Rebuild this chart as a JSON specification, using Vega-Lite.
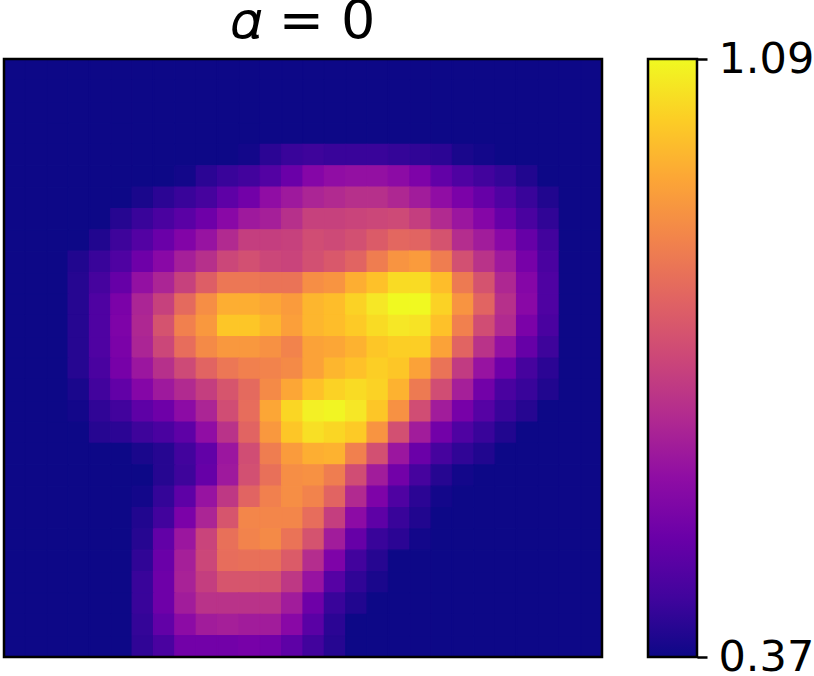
{"$schema":"https://vega.github.io/schema/vega-lite/v6.json","padding":{"left":2,"top":-6,"right":0,"bottom":0},"background":"white","config":{"font":"DejaVu Sans","view":{"stroke":null}},"spacing":42,"hconcat":[{"title":{"text":"𝛼 = 0","font":"DejaVu Sans","fontSize":54,"fontWeight":"normal","color":"black","offset":9,"anchor":"middle"},"width":598,"height":598,"layer":[{"data":{"values":[
{"x":0,"y":0,"v":0.37},{"x":1,"y":0,"v":0.37},{"x":2,"y":0,"v":0.37},{"x":3,"y":0,"v":0.37},{"x":4,"y":0,"v":0.37},{"x":5,"y":0,"v":0.37},{"x":6,"y":0,"v":0.37},{"x":7,"y":0,"v":0.37},{"x":8,"y":0,"v":0.37},{"x":9,"y":0,"v":0.37},{"x":10,"y":0,"v":0.37},{"x":11,"y":0,"v":0.37},{"x":12,"y":0,"v":0.37},{"x":13,"y":0,"v":0.37},{"x":14,"y":0,"v":0.37},{"x":15,"y":0,"v":0.37},{"x":16,"y":0,"v":0.37},{"x":17,"y":0,"v":0.37},{"x":18,"y":0,"v":0.37},{"x":19,"y":0,"v":0.37},{"x":20,"y":0,"v":0.37},{"x":21,"y":0,"v":0.37},{"x":22,"y":0,"v":0.37},{"x":23,"y":0,"v":0.37},{"x":24,"y":0,"v":0.37},{"x":25,"y":0,"v":0.37},{"x":26,"y":0,"v":0.37},{"x":27,"y":0,"v":0.37},
{"x":0,"y":1,"v":0.37},{"x":1,"y":1,"v":0.37},{"x":2,"y":1,"v":0.37},{"x":3,"y":1,"v":0.37},{"x":4,"y":1,"v":0.37},{"x":5,"y":1,"v":0.37},{"x":6,"y":1,"v":0.37},{"x":7,"y":1,"v":0.37},{"x":8,"y":1,"v":0.37},{"x":9,"y":1,"v":0.37},{"x":10,"y":1,"v":0.37},{"x":11,"y":1,"v":0.37},{"x":12,"y":1,"v":0.37},{"x":13,"y":1,"v":0.37},{"x":14,"y":1,"v":0.37},{"x":15,"y":1,"v":0.37},{"x":16,"y":1,"v":0.37},{"x":17,"y":1,"v":0.37},{"x":18,"y":1,"v":0.37},{"x":19,"y":1,"v":0.37},{"x":20,"y":1,"v":0.37},{"x":21,"y":1,"v":0.37},{"x":22,"y":1,"v":0.37},{"x":23,"y":1,"v":0.37},{"x":24,"y":1,"v":0.37},{"x":25,"y":1,"v":0.37},{"x":26,"y":1,"v":0.37},{"x":27,"y":1,"v":0.37},
{"x":0,"y":2,"v":0.37},{"x":1,"y":2,"v":0.37},{"x":2,"y":2,"v":0.37},{"x":3,"y":2,"v":0.37},{"x":4,"y":2,"v":0.37},{"x":5,"y":2,"v":0.37},{"x":6,"y":2,"v":0.37},{"x":7,"y":2,"v":0.37},{"x":8,"y":2,"v":0.37},{"x":9,"y":2,"v":0.37},{"x":10,"y":2,"v":0.37},{"x":11,"y":2,"v":0.37},{"x":12,"y":2,"v":0.37},{"x":13,"y":2,"v":0.37},{"x":14,"y":2,"v":0.37},{"x":15,"y":2,"v":0.37},{"x":16,"y":2,"v":0.37},{"x":17,"y":2,"v":0.37},{"x":18,"y":2,"v":0.37},{"x":19,"y":2,"v":0.37},{"x":20,"y":2,"v":0.37},{"x":21,"y":2,"v":0.37},{"x":22,"y":2,"v":0.37},{"x":23,"y":2,"v":0.37},{"x":24,"y":2,"v":0.37},{"x":25,"y":2,"v":0.37},{"x":26,"y":2,"v":0.37},{"x":27,"y":2,"v":0.37},
{"x":0,"y":3,"v":0.37},{"x":1,"y":3,"v":0.37},{"x":2,"y":3,"v":0.37},{"x":3,"y":3,"v":0.37},{"x":4,"y":3,"v":0.37},{"x":5,"y":3,"v":0.37},{"x":6,"y":3,"v":0.37},{"x":7,"y":3,"v":0.37},{"x":8,"y":3,"v":0.37},{"x":9,"y":3,"v":0.37},{"x":10,"y":3,"v":0.37},{"x":11,"y":3,"v":0.37},{"x":12,"y":3,"v":0.37},{"x":13,"y":3,"v":0.37},{"x":14,"y":3,"v":0.37},{"x":15,"y":3,"v":0.37},{"x":16,"y":3,"v":0.37},{"x":17,"y":3,"v":0.37},{"x":18,"y":3,"v":0.37},{"x":19,"y":3,"v":0.37},{"x":20,"y":3,"v":0.37},{"x":21,"y":3,"v":0.37},{"x":22,"y":3,"v":0.37},{"x":23,"y":3,"v":0.37},{"x":24,"y":3,"v":0.37},{"x":25,"y":3,"v":0.37},{"x":26,"y":3,"v":0.37},{"x":27,"y":3,"v":0.37},
{"x":0,"y":4,"v":0.37},{"x":1,"y":4,"v":0.37},{"x":2,"y":4,"v":0.37},{"x":3,"y":4,"v":0.37},{"x":4,"y":4,"v":0.37},{"x":5,"y":4,"v":0.37},{"x":6,"y":4,"v":0.37},{"x":7,"y":4,"v":0.37},{"x":8,"y":4,"v":0.37},{"x":9,"y":4,"v":0.37},{"x":10,"y":4,"v":0.37},{"x":11,"y":4,"v":0.377},{"x":12,"y":4,"v":0.406},{"x":13,"y":4,"v":0.428},{"x":14,"y":4,"v":0.435},{"x":15,"y":4,"v":0.428},{"x":16,"y":4,"v":0.428},{"x":17,"y":4,"v":0.428},{"x":18,"y":4,"v":0.42},{"x":19,"y":4,"v":0.413},{"x":20,"y":4,"v":0.406},{"x":21,"y":4,"v":0.384},{"x":22,"y":4,"v":0.377},{"x":23,"y":4,"v":0.37},{"x":24,"y":4,"v":0.37},{"x":25,"y":4,"v":0.37},{"x":26,"y":4,"v":0.37},{"x":27,"y":4,"v":0.37},
{"x":0,"y":5,"v":0.37},{"x":1,"y":5,"v":0.37},{"x":2,"y":5,"v":0.37},{"x":3,"y":5,"v":0.37},{"x":4,"y":5,"v":0.37},{"x":5,"y":5,"v":0.37},{"x":6,"y":5,"v":0.37},{"x":7,"y":5,"v":0.37},{"x":8,"y":5,"v":0.377},{"x":9,"y":5,"v":0.406},{"x":10,"y":5,"v":0.428},{"x":11,"y":5,"v":0.442},{"x":12,"y":5,"v":0.471},{"x":13,"y":5,"v":0.514},{"x":14,"y":5,"v":0.564},{"x":15,"y":5,"v":0.586},{"x":16,"y":5,"v":0.593},{"x":17,"y":5,"v":0.593},{"x":18,"y":5,"v":0.579},{"x":19,"y":5,"v":0.55},{"x":20,"y":5,"v":0.5},{"x":21,"y":5,"v":0.464},{"x":22,"y":5,"v":0.442},{"x":23,"y":5,"v":0.42},{"x":24,"y":5,"v":0.392},{"x":25,"y":5,"v":0.37},{"x":26,"y":5,"v":0.37},{"x":27,"y":5,"v":0.37},
{"x":0,"y":6,"v":0.37},{"x":1,"y":6,"v":0.37},{"x":2,"y":6,"v":0.37},{"x":3,"y":6,"v":0.37},{"x":4,"y":6,"v":0.37},{"x":5,"y":6,"v":0.37},{"x":6,"y":6,"v":0.384},{"x":7,"y":6,"v":0.406},{"x":8,"y":6,"v":0.428},{"x":9,"y":6,"v":0.449},{"x":10,"y":6,"v":0.492},{"x":11,"y":6,"v":0.528},{"x":12,"y":6,"v":0.586},{"x":13,"y":6,"v":0.615},{"x":14,"y":6,"v":0.644},{"x":15,"y":6,"v":0.658},{"x":16,"y":6,"v":0.672},{"x":17,"y":6,"v":0.672},{"x":18,"y":6,"v":0.651},{"x":19,"y":6,"v":0.622},{"x":20,"y":6,"v":0.586},{"x":21,"y":6,"v":0.543},{"x":22,"y":6,"v":0.507},{"x":23,"y":6,"v":0.464},{"x":24,"y":6,"v":0.428},{"x":25,"y":6,"v":0.392},{"x":26,"y":6,"v":0.37},{"x":27,"y":6,"v":0.37},
{"x":0,"y":7,"v":0.37},{"x":1,"y":7,"v":0.37},{"x":2,"y":7,"v":0.37},{"x":3,"y":7,"v":0.37},{"x":4,"y":7,"v":0.37},{"x":5,"y":7,"v":0.399},{"x":6,"y":7,"v":0.428},{"x":7,"y":7,"v":0.456},{"x":8,"y":7,"v":0.485},{"x":9,"y":7,"v":0.521},{"x":10,"y":7,"v":0.572},{"x":11,"y":7,"v":0.615},{"x":12,"y":7,"v":0.629},{"x":13,"y":7,"v":0.672},{"x":14,"y":7,"v":0.716},{"x":15,"y":7,"v":0.716},{"x":16,"y":7,"v":0.723},{"x":17,"y":7,"v":0.73},{"x":18,"y":7,"v":0.737},{"x":19,"y":7,"v":0.708},{"x":20,"y":7,"v":0.658},{"x":21,"y":7,"v":0.608},{"x":22,"y":7,"v":0.564},{"x":23,"y":7,"v":0.507},{"x":24,"y":7,"v":0.456},{"x":25,"y":7,"v":0.413},{"x":26,"y":7,"v":0.37},{"x":27,"y":7,"v":0.37},
{"x":0,"y":8,"v":0.37},{"x":1,"y":8,"v":0.37},{"x":2,"y":8,"v":0.37},{"x":3,"y":8,"v":0.37},{"x":4,"y":8,"v":0.392},{"x":5,"y":8,"v":0.435},{"x":6,"y":8,"v":0.471},{"x":7,"y":8,"v":0.514},{"x":8,"y":8,"v":0.557},{"x":9,"y":8,"v":0.6},{"x":10,"y":8,"v":0.658},{"x":11,"y":8,"v":0.708},{"x":12,"y":8,"v":0.708},{"x":13,"y":8,"v":0.716},{"x":14,"y":8,"v":0.744},{"x":15,"y":8,"v":0.737},{"x":16,"y":8,"v":0.752},{"x":17,"y":8,"v":0.78},{"x":18,"y":8,"v":0.809},{"x":19,"y":8,"v":0.802},{"x":20,"y":8,"v":0.759},{"x":21,"y":8,"v":0.665},{"x":22,"y":8,"v":0.622},{"x":23,"y":8,"v":0.572},{"x":24,"y":8,"v":0.507},{"x":25,"y":8,"v":0.442},{"x":26,"y":8,"v":0.37},{"x":27,"y":8,"v":0.37},
{"x":0,"y":9,"v":0.37},{"x":1,"y":9,"v":0.37},{"x":2,"y":9,"v":0.37},{"x":3,"y":9,"v":0.392},{"x":4,"y":9,"v":0.428},{"x":5,"y":9,"v":0.464},{"x":6,"y":9,"v":0.521},{"x":7,"y":9,"v":0.572},{"x":8,"y":9,"v":0.629},{"x":9,"y":9,"v":0.672},{"x":10,"y":9,"v":0.73},{"x":11,"y":9,"v":0.752},{"x":12,"y":9,"v":0.73},{"x":13,"y":9,"v":0.723},{"x":14,"y":9,"v":0.752},{"x":15,"y":9,"v":0.773},{"x":16,"y":9,"v":0.802},{"x":17,"y":9,"v":0.86},{"x":18,"y":9,"v":0.91},{"x":19,"y":9,"v":0.924},{"x":20,"y":9,"v":0.86},{"x":21,"y":9,"v":0.752},{"x":22,"y":9,"v":0.68},{"x":23,"y":9,"v":0.615},{"x":24,"y":9,"v":0.536},{"x":25,"y":9,"v":0.456},{"x":26,"y":9,"v":0.37},{"x":27,"y":9,"v":0.37},
{"x":0,"y":10,"v":0.37},{"x":1,"y":10,"v":0.37},{"x":2,"y":10,"v":0.37},{"x":3,"y":10,"v":0.399},{"x":4,"y":10,"v":0.449},{"x":5,"y":10,"v":0.507},{"x":6,"y":10,"v":0.593},{"x":7,"y":10,"v":0.644},{"x":8,"y":10,"v":0.716},{"x":9,"y":10,"v":0.788},{"x":10,"y":10,"v":0.845},{"x":11,"y":10,"v":0.845},{"x":12,"y":10,"v":0.838},{"x":13,"y":10,"v":0.838},{"x":14,"y":10,"v":0.896},{"x":15,"y":10,"v":0.91},{"x":16,"y":10,"v":0.96},{"x":17,"y":10,"v":0.996},{"x":18,"y":10,"v":1.04},{"x":19,"y":10,"v":1.04},{"x":20,"y":10,"v":0.989},{"x":21,"y":10,"v":0.852},{"x":22,"y":10,"v":0.759},{"x":23,"y":10,"v":0.651},{"x":24,"y":10,"v":0.564},{"x":25,"y":10,"v":0.464},{"x":26,"y":10,"v":0.37},{"x":27,"y":10,"v":0.37},
{"x":0,"y":11,"v":0.37},{"x":1,"y":11,"v":0.37},{"x":2,"y":11,"v":0.37},{"x":3,"y":11,"v":0.399},{"x":4,"y":11,"v":0.464},{"x":5,"y":11,"v":0.543},{"x":6,"y":11,"v":0.644},{"x":7,"y":11,"v":0.716},{"x":8,"y":11,"v":0.816},{"x":9,"y":11,"v":0.896},{"x":10,"y":11,"v":0.96},{"x":11,"y":11,"v":0.96},{"x":12,"y":11,"v":0.946},{"x":13,"y":11,"v":0.924},{"x":14,"y":11,"v":0.975},{"x":15,"y":11,"v":0.989},{"x":16,"y":11,"v":1.025},{"x":17,"y":11,"v":1.061},{"x":18,"y":11,"v":1.09},{"x":19,"y":11,"v":1.09},{"x":20,"y":11,"v":1.025},{"x":21,"y":11,"v":0.91},{"x":22,"y":11,"v":0.802},{"x":23,"y":11,"v":0.672},{"x":24,"y":11,"v":0.572},{"x":25,"y":11,"v":0.464},{"x":26,"y":11,"v":0.37},{"x":27,"y":11,"v":0.37},
{"x":0,"y":12,"v":0.37},{"x":1,"y":12,"v":0.37},{"x":2,"y":12,"v":0.37},{"x":3,"y":12,"v":0.399},{"x":4,"y":12,"v":0.464},{"x":5,"y":12,"v":0.55},{"x":6,"y":12,"v":0.651},{"x":7,"y":12,"v":0.759},{"x":8,"y":12,"v":0.867},{"x":9,"y":12,"v":0.917},{"x":10,"y":12,"v":1.004},{"x":11,"y":12,"v":1.004},{"x":12,"y":12,"v":0.975},{"x":13,"y":12,"v":0.932},{"x":14,"y":12,"v":0.975},{"x":15,"y":12,"v":0.989},{"x":16,"y":12,"v":1.011},{"x":17,"y":12,"v":1.04},{"x":18,"y":12,"v":1.061},{"x":19,"y":12,"v":1.054},{"x":20,"y":12,"v":0.996},{"x":21,"y":12,"v":0.867},{"x":22,"y":12,"v":0.744},{"x":23,"y":12,"v":0.658},{"x":24,"y":12,"v":0.543},{"x":25,"y":12,"v":0.456},{"x":26,"y":12,"v":0.37},{"x":27,"y":12,"v":0.37},
{"x":0,"y":13,"v":0.37},{"x":1,"y":13,"v":0.37},{"x":2,"y":13,"v":0.37},{"x":3,"y":13,"v":0.399},{"x":4,"y":13,"v":0.464},{"x":5,"y":13,"v":0.543},{"x":6,"y":13,"v":0.644},{"x":7,"y":13,"v":0.73},{"x":8,"y":13,"v":0.824},{"x":9,"y":13,"v":0.888},{"x":10,"y":13,"v":0.917},{"x":11,"y":13,"v":0.917},{"x":12,"y":13,"v":0.903},{"x":13,"y":13,"v":0.874},{"x":14,"y":13,"v":0.939},{"x":15,"y":13,"v":0.946},{"x":16,"y":13,"v":0.968},{"x":17,"y":13,"v":1.004},{"x":18,"y":13,"v":1.018},{"x":19,"y":13,"v":1.018},{"x":20,"y":13,"v":0.939},{"x":21,"y":13,"v":0.802},{"x":22,"y":13,"v":0.68},{"x":23,"y":13,"v":0.593},{"x":24,"y":13,"v":0.507},{"x":25,"y":13,"v":0.435},{"x":26,"y":13,"v":0.37},{"x":27,"y":13,"v":0.37},
{"x":0,"y":14,"v":0.37},{"x":1,"y":14,"v":0.37},{"x":2,"y":14,"v":0.37},{"x":3,"y":14,"v":0.399},{"x":4,"y":14,"v":0.456},{"x":5,"y":14,"v":0.536},{"x":6,"y":14,"v":0.608},{"x":7,"y":14,"v":0.672},{"x":8,"y":14,"v":0.737},{"x":9,"y":14,"v":0.802},{"x":10,"y":14,"v":0.845},{"x":11,"y":14,"v":0.867},{"x":12,"y":14,"v":0.874},{"x":13,"y":14,"v":0.888},{"x":14,"y":14,"v":0.939},{"x":15,"y":14,"v":0.975},{"x":16,"y":14,"v":0.996},{"x":17,"y":14,"v":1.018},{"x":18,"y":14,"v":1.004},{"x":19,"y":14,"v":0.939},{"x":20,"y":14,"v":0.838},{"x":21,"y":14,"v":0.701},{"x":22,"y":14,"v":0.6},{"x":23,"y":14,"v":0.521},{"x":24,"y":14,"v":0.449},{"x":25,"y":14,"v":0.406},{"x":26,"y":14,"v":0.37},{"x":27,"y":14,"v":0.37},
{"x":0,"y":15,"v":0.37},{"x":1,"y":15,"v":0.37},{"x":2,"y":15,"v":0.37},{"x":3,"y":15,"v":0.384},{"x":4,"y":15,"v":0.442},{"x":5,"y":15,"v":0.5},{"x":6,"y":15,"v":0.564},{"x":7,"y":15,"v":0.615},{"x":8,"y":15,"v":0.658},{"x":9,"y":15,"v":0.708},{"x":10,"y":15,"v":0.766},{"x":11,"y":15,"v":0.816},{"x":12,"y":15,"v":0.888},{"x":13,"y":15,"v":0.946},{"x":14,"y":15,"v":0.996},{"x":15,"y":15,"v":1.025},{"x":16,"y":15,"v":1.04},{"x":17,"y":15,"v":1.025},{"x":18,"y":15,"v":0.968},{"x":19,"y":15,"v":0.852},{"x":20,"y":15,"v":0.744},{"x":21,"y":15,"v":0.629},{"x":22,"y":15,"v":0.528},{"x":23,"y":15,"v":0.456},{"x":24,"y":15,"v":0.428},{"x":25,"y":15,"v":0.392},{"x":26,"y":15,"v":0.37},{"x":27,"y":15,"v":0.37},
{"x":0,"y":16,"v":0.37},{"x":1,"y":16,"v":0.37},{"x":2,"y":16,"v":0.37},{"x":3,"y":16,"v":0.377},{"x":4,"y":16,"v":0.413},{"x":5,"y":16,"v":0.442},{"x":6,"y":16,"v":0.492},{"x":7,"y":16,"v":0.521},{"x":8,"y":16,"v":0.579},{"x":9,"y":16,"v":0.644},{"x":10,"y":16,"v":0.744},{"x":11,"y":16,"v":0.824},{"x":12,"y":16,"v":0.946},{"x":13,"y":16,"v":1.032},{"x":14,"y":16,"v":1.076},{"x":15,"y":16,"v":1.083},{"x":16,"y":16,"v":1.061},{"x":17,"y":16,"v":1.004},{"x":18,"y":16,"v":0.903},{"x":19,"y":16,"v":0.744},{"x":20,"y":16,"v":0.622},{"x":21,"y":16,"v":0.536},{"x":22,"y":16,"v":0.478},{"x":23,"y":16,"v":0.428},{"x":24,"y":16,"v":0.399},{"x":25,"y":16,"v":0.37},{"x":26,"y":16,"v":0.37},{"x":27,"y":16,"v":0.37},
{"x":0,"y":17,"v":0.37},{"x":1,"y":17,"v":0.37},{"x":2,"y":17,"v":0.37},{"x":3,"y":17,"v":0.37},{"x":4,"y":17,"v":0.399},{"x":5,"y":17,"v":0.406},{"x":6,"y":17,"v":0.435},{"x":7,"y":17,"v":0.456},{"x":8,"y":17,"v":0.492},{"x":9,"y":17,"v":0.586},{"x":10,"y":17,"v":0.68},{"x":11,"y":17,"v":0.802},{"x":12,"y":17,"v":0.917},{"x":13,"y":17,"v":1.004},{"x":14,"y":17,"v":1.047},{"x":15,"y":17,"v":1.032},{"x":16,"y":17,"v":1.011},{"x":17,"y":17,"v":0.91},{"x":18,"y":17,"v":0.752},{"x":19,"y":17,"v":0.622},{"x":20,"y":17,"v":0.528},{"x":21,"y":17,"v":0.464},{"x":22,"y":17,"v":0.428},{"x":23,"y":17,"v":0.392},{"x":24,"y":17,"v":0.37},{"x":25,"y":17,"v":0.37},{"x":26,"y":17,"v":0.37},{"x":27,"y":17,"v":0.37},
{"x":0,"y":18,"v":0.37},{"x":1,"y":18,"v":0.37},{"x":2,"y":18,"v":0.37},{"x":3,"y":18,"v":0.37},{"x":4,"y":18,"v":0.37},{"x":5,"y":18,"v":0.37},{"x":6,"y":18,"v":0.384},{"x":7,"y":18,"v":0.399},{"x":8,"y":18,"v":0.442},{"x":9,"y":18,"v":0.5},{"x":10,"y":18,"v":0.608},{"x":11,"y":18,"v":0.744},{"x":12,"y":18,"v":0.86},{"x":13,"y":18,"v":0.924},{"x":14,"y":18,"v":0.96},{"x":15,"y":18,"v":0.968},{"x":16,"y":18,"v":0.867},{"x":17,"y":18,"v":0.752},{"x":18,"y":18,"v":0.608},{"x":19,"y":18,"v":0.514},{"x":20,"y":18,"v":0.449},{"x":21,"y":18,"v":0.413},{"x":22,"y":18,"v":0.392},{"x":23,"y":18,"v":0.37},{"x":24,"y":18,"v":0.37},{"x":25,"y":18,"v":0.37},{"x":26,"y":18,"v":0.37},{"x":27,"y":18,"v":0.37},
{"x":0,"y":19,"v":0.37},{"x":1,"y":19,"v":0.37},{"x":2,"y":19,"v":0.37},{"x":3,"y":19,"v":0.37},{"x":4,"y":19,"v":0.37},{"x":5,"y":19,"v":0.37},{"x":6,"y":19,"v":0.37},{"x":7,"y":19,"v":0.399},{"x":8,"y":19,"v":0.435},{"x":9,"y":19,"v":0.507},{"x":10,"y":19,"v":0.615},{"x":11,"y":19,"v":0.752},{"x":12,"y":19,"v":0.831},{"x":13,"y":19,"v":0.896},{"x":14,"y":19,"v":0.903},{"x":15,"y":19,"v":0.86},{"x":16,"y":19,"v":0.744},{"x":17,"y":19,"v":0.622},{"x":18,"y":19,"v":0.528},{"x":19,"y":19,"v":0.449},{"x":20,"y":19,"v":0.399},{"x":21,"y":19,"v":0.377},{"x":22,"y":19,"v":0.37},{"x":23,"y":19,"v":0.37},{"x":24,"y":19,"v":0.37},{"x":25,"y":19,"v":0.37},{"x":26,"y":19,"v":0.37},{"x":27,"y":19,"v":0.37},
{"x":0,"y":20,"v":0.37},{"x":1,"y":20,"v":0.37},{"x":2,"y":20,"v":0.37},{"x":3,"y":20,"v":0.37},{"x":4,"y":20,"v":0.37},{"x":5,"y":20,"v":0.37},{"x":6,"y":20,"v":0.377},{"x":7,"y":20,"v":0.42},{"x":8,"y":20,"v":0.492},{"x":9,"y":20,"v":0.6},{"x":10,"y":20,"v":0.694},{"x":11,"y":20,"v":0.802},{"x":12,"y":20,"v":0.867},{"x":13,"y":20,"v":0.896},{"x":14,"y":20,"v":0.874},{"x":15,"y":20,"v":0.802},{"x":16,"y":20,"v":0.658},{"x":17,"y":20,"v":0.55},{"x":18,"y":20,"v":0.464},{"x":19,"y":20,"v":0.406},{"x":20,"y":20,"v":0.377},{"x":21,"y":20,"v":0.37},{"x":22,"y":20,"v":0.37},{"x":23,"y":20,"v":0.37},{"x":24,"y":20,"v":0.37},{"x":25,"y":20,"v":0.37},{"x":26,"y":20,"v":0.37},{"x":27,"y":20,"v":0.37},
{"x":0,"y":21,"v":0.37},{"x":1,"y":21,"v":0.37},{"x":2,"y":21,"v":0.37},{"x":3,"y":21,"v":0.37},{"x":4,"y":21,"v":0.37},{"x":5,"y":21,"v":0.37},{"x":6,"y":21,"v":0.392},{"x":7,"y":21,"v":0.442},{"x":8,"y":21,"v":0.543},{"x":9,"y":21,"v":0.644},{"x":10,"y":21,"v":0.766},{"x":11,"y":21,"v":0.881},{"x":12,"y":21,"v":0.881},{"x":13,"y":21,"v":0.881},{"x":14,"y":21,"v":0.824},{"x":15,"y":21,"v":0.708},{"x":16,"y":21,"v":0.579},{"x":17,"y":21,"v":0.492},{"x":18,"y":21,"v":0.428},{"x":19,"y":21,"v":0.392},{"x":20,"y":21,"v":0.37},{"x":21,"y":21,"v":0.37},{"x":22,"y":21,"v":0.37},{"x":23,"y":21,"v":0.37},{"x":24,"y":21,"v":0.37},{"x":25,"y":21,"v":0.37},{"x":26,"y":21,"v":0.37},{"x":27,"y":21,"v":0.37},
{"x":0,"y":22,"v":0.37},{"x":1,"y":22,"v":0.37},{"x":2,"y":22,"v":0.37},{"x":3,"y":22,"v":0.37},{"x":4,"y":22,"v":0.37},{"x":5,"y":22,"v":0.37},{"x":6,"y":22,"v":0.399},{"x":7,"y":22,"v":0.5},{"x":8,"y":22,"v":0.608},{"x":9,"y":22,"v":0.723},{"x":10,"y":22,"v":0.831},{"x":11,"y":22,"v":0.874},{"x":12,"y":22,"v":0.888},{"x":13,"y":22,"v":0.838},{"x":14,"y":22,"v":0.759},{"x":15,"y":22,"v":0.622},{"x":16,"y":22,"v":0.507},{"x":17,"y":22,"v":0.428},{"x":18,"y":22,"v":0.406},{"x":19,"y":22,"v":0.377},{"x":20,"y":22,"v":0.37},{"x":21,"y":22,"v":0.37},{"x":22,"y":22,"v":0.37},{"x":23,"y":22,"v":0.37},{"x":24,"y":22,"v":0.37},{"x":25,"y":22,"v":0.37},{"x":26,"y":22,"v":0.37},{"x":27,"y":22,"v":0.37},
{"x":0,"y":23,"v":0.37},{"x":1,"y":23,"v":0.37},{"x":2,"y":23,"v":0.37},{"x":3,"y":23,"v":0.37},{"x":4,"y":23,"v":0.37},{"x":5,"y":23,"v":0.37},{"x":6,"y":23,"v":0.413},{"x":7,"y":23,"v":0.514},{"x":8,"y":23,"v":0.629},{"x":9,"y":23,"v":0.73},{"x":10,"y":23,"v":0.824},{"x":11,"y":23,"v":0.831},{"x":12,"y":23,"v":0.831},{"x":13,"y":23,"v":0.78},{"x":14,"y":23,"v":0.665},{"x":15,"y":23,"v":0.55},{"x":16,"y":23,"v":0.442},{"x":17,"y":23,"v":0.399},{"x":18,"y":23,"v":0.37},{"x":19,"y":23,"v":0.37},{"x":20,"y":23,"v":0.37},{"x":21,"y":23,"v":0.37},{"x":22,"y":23,"v":0.37},{"x":23,"y":23,"v":0.37},{"x":24,"y":23,"v":0.37},{"x":25,"y":23,"v":0.37},{"x":26,"y":23,"v":0.37},{"x":27,"y":23,"v":0.37},
{"x":0,"y":24,"v":0.37},{"x":1,"y":24,"v":0.37},{"x":2,"y":24,"v":0.37},{"x":3,"y":24,"v":0.37},{"x":4,"y":24,"v":0.37},{"x":5,"y":24,"v":0.37},{"x":6,"y":24,"v":0.428},{"x":7,"y":24,"v":0.521},{"x":8,"y":24,"v":0.636},{"x":9,"y":24,"v":0.708},{"x":10,"y":24,"v":0.766},{"x":11,"y":24,"v":0.766},{"x":12,"y":24,"v":0.759},{"x":13,"y":24,"v":0.694},{"x":14,"y":24,"v":0.6},{"x":15,"y":24,"v":0.478},{"x":16,"y":24,"v":0.413},{"x":17,"y":24,"v":0.384},{"x":18,"y":24,"v":0.37},{"x":19,"y":24,"v":0.37},{"x":20,"y":24,"v":0.37},{"x":21,"y":24,"v":0.37},{"x":22,"y":24,"v":0.37},{"x":23,"y":24,"v":0.37},{"x":24,"y":24,"v":0.37},{"x":25,"y":24,"v":0.37},{"x":26,"y":24,"v":0.37},{"x":27,"y":24,"v":0.37},
{"x":0,"y":25,"v":0.37},{"x":1,"y":25,"v":0.37},{"x":2,"y":25,"v":0.37},{"x":3,"y":25,"v":0.37},{"x":4,"y":25,"v":0.37},{"x":5,"y":25,"v":0.37},{"x":6,"y":25,"v":0.428},{"x":7,"y":25,"v":0.521},{"x":8,"y":25,"v":0.622},{"x":9,"y":25,"v":0.68},{"x":10,"y":25,"v":0.68},{"x":11,"y":25,"v":0.68},{"x":12,"y":25,"v":0.68},{"x":13,"y":25,"v":0.622},{"x":14,"y":25,"v":0.521},{"x":15,"y":25,"v":0.428},{"x":16,"y":25,"v":0.392},{"x":17,"y":25,"v":0.37},{"x":18,"y":25,"v":0.37},{"x":19,"y":25,"v":0.37},{"x":20,"y":25,"v":0.37},{"x":21,"y":25,"v":0.37},{"x":22,"y":25,"v":0.37},{"x":23,"y":25,"v":0.37},{"x":24,"y":25,"v":0.37},{"x":25,"y":25,"v":0.37},{"x":26,"y":25,"v":0.37},{"x":27,"y":25,"v":0.37},
{"x":0,"y":26,"v":0.37},{"x":1,"y":26,"v":0.37},{"x":2,"y":26,"v":0.37},{"x":3,"y":26,"v":0.37},{"x":4,"y":26,"v":0.37},{"x":5,"y":26,"v":0.37},{"x":6,"y":26,"v":0.42},{"x":7,"y":26,"v":0.5},{"x":8,"y":26,"v":0.579},{"x":9,"y":26,"v":0.622},{"x":10,"y":26,"v":0.629},{"x":11,"y":26,"v":0.622},{"x":12,"y":26,"v":0.622},{"x":13,"y":26,"v":0.572},{"x":14,"y":26,"v":0.485},{"x":15,"y":26,"v":0.406},{"x":16,"y":26,"v":0.37},{"x":17,"y":26,"v":0.37},{"x":18,"y":26,"v":0.37},{"x":19,"y":26,"v":0.37},{"x":20,"y":26,"v":0.37},{"x":21,"y":26,"v":0.37},{"x":22,"y":26,"v":0.37},{"x":23,"y":26,"v":0.37},{"x":24,"y":26,"v":0.37},{"x":25,"y":26,"v":0.37},{"x":26,"y":26,"v":0.37},{"x":27,"y":26,"v":0.37},
{"x":0,"y":27,"v":0.37},{"x":1,"y":27,"v":0.37},{"x":2,"y":27,"v":0.37},{"x":3,"y":27,"v":0.37},{"x":4,"y":27,"v":0.37},{"x":5,"y":27,"v":0.37},{"x":6,"y":27,"v":0.413},{"x":7,"y":27,"v":0.456},{"x":8,"y":27,"v":0.528},{"x":9,"y":27,"v":0.528},{"x":10,"y":27,"v":0.528},{"x":11,"y":27,"v":0.536},{"x":12,"y":27,"v":0.528},{"x":13,"y":27,"v":0.492},{"x":14,"y":27,"v":0.442},{"x":15,"y":27,"v":0.399},{"x":16,"y":27,"v":0.37},{"x":17,"y":27,"v":0.37},{"x":18,"y":27,"v":0.37},{"x":19,"y":27,"v":0.37},{"x":20,"y":27,"v":0.37},{"x":21,"y":27,"v":0.37},{"x":22,"y":27,"v":0.37},{"x":23,"y":27,"v":0.37},{"x":24,"y":27,"v":0.37},{"x":25,"y":27,"v":0.37},{"x":26,"y":27,"v":0.37},{"x":27,"y":27,"v":0.37}
]},"mark":{"type":"rect","strokeWidth":1.2},"encoding":{"x":{"field":"x","type":"ordinal","axis":null,"scale":{"domain":[0,1,2,3,4,5,6,7,8,9,10,11,12,13,14,15,16,17,18,19,20,21,22,23,24,25,26,27],"paddingInner":0,"paddingOuter":0}},"y":{"field":"y","type":"ordinal","axis":null,"scale":{"domain":[0,1,2,3,4,5,6,7,8,9,10,11,12,13,14,15,16,17,18,19,20,21,22,23,24,25,26,27],"paddingInner":0,"paddingOuter":0}},"fill":{"field":"v","type":"quantitative","legend":null,"scale":{"scheme":"plasma","domain":[0.37,1.09]}},"stroke":{"field":"v","type":"quantitative","legend":null,"scale":{"scheme":"plasma","domain":[0.37,1.09]}}}},{"data":{"values":[{"frame":1}]},"mark":{"type":"rect","fill":null,"stroke":"black","strokeWidth":2.5},"encoding":{}}]},{"width":49,"height":598,"data":{"values":[{"lo":0.37,"hi":1.09}]},"mark":{"type":"rect","stroke":"black","strokeWidth":2.5,"fill":{"gradient":"linear","x1":0,"y1":1,"x2":0,"y2":0,"stops":[{"offset":0,"color":"#0d0887"},{"offset":0.1,"color":"#41049d"},{"offset":0.2,"color":"#6a00a8"},{"offset":0.3,"color":"#8f0da4"},{"offset":0.4,"color":"#b12a90"},{"offset":0.5,"color":"#cc4778"},{"offset":0.6,"color":"#e16462"},{"offset":0.7,"color":"#f2844b"},{"offset":0.8,"color":"#fca636"},{"offset":0.9,"color":"#fcce25"},{"offset":1,"color":"#f0f921"}]}},"encoding":{"y":{"field":"lo","type":"quantitative","title":null,"scale":{"domain":[0.37,1.09],"nice":false,"zero":false},"axis":{"orient":"right","values":[0.37,1.09],"format":".2f","grid":false,"domain":false,"tickColor":"black","tickWidth":2.5,"tickSize":10,"labelFontSize":43,"labelColor":"black","labelPadding":11,"labelFont":"DejaVu Sans"}},"y2":{"field":"hi"}}}]}
